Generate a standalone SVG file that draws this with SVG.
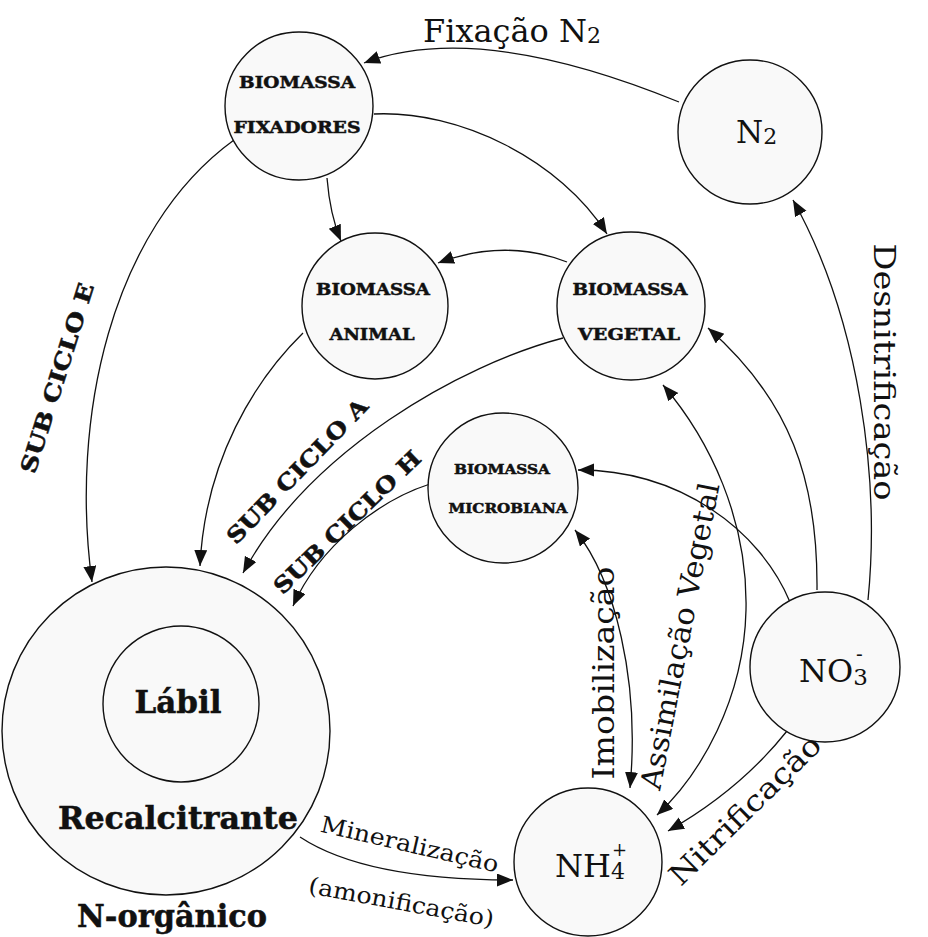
<svg xmlns="http://www.w3.org/2000/svg" width="928" height="937" viewBox="0 0 928 937">
<style>
.node{fill:#f9f9f9;stroke:#111;stroke-width:1.4}
.c{fill:none;stroke:#111;stroke-width:1.3}
.b{font-family:"DejaVu Serif","Liberation Serif",serif;font-weight:bold;fill:#111;stroke:#111;stroke-width:0.5}
.r{font-family:"DejaVu Serif","Liberation Serif",serif;fill:#111}
</style>
<defs>
<marker id="ah" markerUnits="userSpaceOnUse" markerWidth="18" markerHeight="14" refX="16" refY="6.5" orient="auto-start-reverse" viewBox="0 0 18 14">
<path d="M0,0 L16,6.5 L0,13 z" fill="#111"/>
</marker>
</defs>
<rect width="928" height="937" fill="#fff"/>

<g id="connectors">
<path class="c" d="M679,102 Q478,20 364,63" marker-end="url(#ah)"/>
<path class="c" d="M374,114 C460,110 560,160 607,234" marker-end="url(#ah)"/>
<path class="c" d="M327,178 Q330,215 341,241" marker-end="url(#ah)"/>
<path class="c" d="M567,262 Q505,238 438,263" marker-end="url(#ah)"/>
<path class="c" d="M234,140 C110,230 70,420 92,582" marker-end="url(#ah)"/>
<path class="c" d="M303,333 C255,380 205,460 200,566" marker-end="url(#ah)"/>
<path class="c" d="M563,338 C460,365 310,450 243,573" marker-end="url(#ah)"/>
<path class="c" d="M430,484 C380,500 320,545 293,606" marker-end="url(#ah)"/>
<path class="c" d="M868,600 C880,480 860,320 793,200" marker-end="url(#ah)"/>
<path class="c" d="M817,590 C818,480 790,400 708,328" marker-end="url(#ah)"/>
<path class="c" d="M663,385 C710,440 748,520 746,610 C744,700 700,775 657,815" marker-start="url(#ah)" marker-end="url(#ah)"/>
<path class="c" d="M575,530 C615,580 640,680 630,788" marker-start="url(#ah)" marker-end="url(#ah)"/>
<path class="c" d="M790,602 C760,530 680,470 578,470" marker-end="url(#ah)"/>
<path class="c" d="M787,731 Q740,790 668,831" marker-end="url(#ah)"/>
<path class="c" d="M300,837 C350,870 430,880 513,880" marker-end="url(#ah)"/>
</g>

<g id="n-organico">
<circle class="node" cx="166" cy="731" r="164"/>
<text class="b" x="178" y="829" font-size="31" text-anchor="middle" textLength="240" lengthAdjust="spacingAndGlyphs">Recalcitrante</text>
<text class="b" x="172" y="927" font-size="32" text-anchor="middle" textLength="190" lengthAdjust="spacingAndGlyphs">N-orgânico</text>
</g>
<g id="labil">
<circle class="node" cx="181" cy="704" r="78"/>
<text class="b" x="178" y="713" font-size="32" text-anchor="middle" textLength="87" lengthAdjust="spacingAndGlyphs">Lábil</text>
</g>

<g id="fixadores">
<circle class="node" cx="299" cy="106" r="74"/>
<text class="b" x="297" y="88" font-size="16" text-anchor="middle" textLength="116" lengthAdjust="spacingAndGlyphs">BIOMASSA</text>
<text class="b" x="297" y="133" font-size="16" text-anchor="middle" textLength="127" lengthAdjust="spacingAndGlyphs">FIXADORES</text>
</g>
<g id="n2">
<circle class="node" cx="750" cy="132" r="72"/>
<text class="r" x="736" y="143" font-size="31">N<tspan font-size="22" dy="1">2</tspan></text>
</g>
<g id="animal">
<circle class="node" cx="375" cy="306" r="73"/>
<text class="b" x="373" y="295" font-size="16" text-anchor="middle" textLength="114" lengthAdjust="spacingAndGlyphs">BIOMASSA</text>
<text class="b" x="372" y="340" font-size="16" text-anchor="middle" textLength="85" lengthAdjust="spacingAndGlyphs">ANIMAL</text>
</g>
<g id="vegetal">
<circle class="node" cx="631" cy="306" r="74"/>
<text class="b" x="630" y="295" font-size="16" text-anchor="middle" textLength="115" lengthAdjust="spacingAndGlyphs">BIOMASSA</text>
<text class="b" x="629" y="340" font-size="16" text-anchor="middle" textLength="102" lengthAdjust="spacingAndGlyphs">VEGETAL</text>
</g>
<g id="microbiana">
<circle class="node" cx="503" cy="488" r="75"/>
<text class="b" x="502" y="474" font-size="13" text-anchor="middle" textLength="96" lengthAdjust="spacingAndGlyphs">BIOMASSA</text>
<text class="b" x="508" y="513" font-size="13" text-anchor="middle" textLength="119" lengthAdjust="spacingAndGlyphs">MICROBIANA</text>
</g>
<g id="no3">
<circle class="node" cx="825" cy="667" r="75"/>
<text class="r" x="799" y="682" font-size="32">NO<tspan font-size="23" dy="3">3</tspan><tspan font-size="20" dx="-12" dy="-24">-</tspan></text>
</g>
<g id="nh4">
<circle class="node" cx="588" cy="862" r="74"/>
<text class="r" x="555" y="877" font-size="32">NH<tspan font-size="22" dy="2">4</tspan><tspan font-size="18" dx="-13" dy="-23">+</tspan></text>
</g>

<g id="labels">
<text class="r" x="423" y="42" font-size="32">Fixação N<tspan font-size="22" dy="1">2</tspan></text>
<text class="b" font-size="22" text-anchor="middle" transform="translate(57,378) rotate(-72.5)" y="8" textLength="198" lengthAdjust="spacingAndGlyphs">SUB CICLO E</text>
<text class="b" font-size="22" text-anchor="middle" transform="translate(297,471) rotate(-46)" y="8" textLength="192" lengthAdjust="spacingAndGlyphs">SUB CICLO A</text>
<text class="b" font-size="22" text-anchor="middle" transform="translate(347,522) rotate(-44)" y="8" textLength="195" lengthAdjust="spacingAndGlyphs">SUB CICLO H</text>
<text class="r" font-size="29" text-anchor="middle" transform="translate(884,372) rotate(90)" y="10" textLength="257" lengthAdjust="spacingAndGlyphs">Desnitrificação</text>
<text class="r" font-size="29" text-anchor="middle" transform="translate(604,673) rotate(-90)" y="10" textLength="213" lengthAdjust="spacingAndGlyphs">Imobilização</text>
<text class="r" font-size="29" text-anchor="middle" transform="translate(680,636) rotate(-79)" y="10" textLength="312" lengthAdjust="spacingAndGlyphs">Assimilação Vegetal</text>
<text class="r" font-size="29" text-anchor="middle" transform="translate(745,810) rotate(-44.5)" y="10" textLength="200" lengthAdjust="spacingAndGlyphs">Nitrificação</text>
<text class="r" font-size="23" text-anchor="middle" transform="translate(408,852) rotate(13)" textLength="182" lengthAdjust="spacingAndGlyphs">Mineralização</text>
<text class="r" font-size="23" text-anchor="middle" transform="translate(400,910) rotate(10.5)" textLength="188" lengthAdjust="spacingAndGlyphs">(amonificação)</text>
</g>
</svg>
